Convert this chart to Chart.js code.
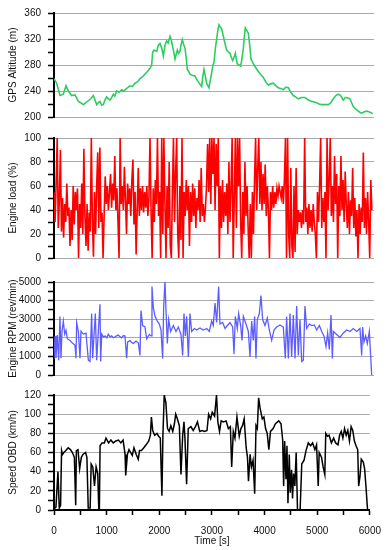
<!DOCTYPE html>
<html>
<head>
<meta charset="utf-8">
<script src="https://cdn.jsdelivr.net/npm/chart.js@4.4.1/dist/chart.umd.min.js"></script>
<style>
  body { margin: 0; background: #fff; }
  #wrap { position: relative; width: 391px; height: 550px; overflow: hidden; }
  #wrap canvas { position: absolute; left: 0; }
</style>
</head>
<body>
<div id="wrap">
  <canvas id="altChart" width="391" height="130" style="top:0px"></canvas>
  <canvas id="loadChart" width="391" height="146" style="top:125px"></canvas>
  <canvas id="rpmChart" width="391" height="119" style="top:269px"></canvas>
  <canvas id="speedChart" width="391" height="168" style="top:382px"></canvas>
</div>
<script>
/* DATA */

const altTime = [0, 50, 112, 175, 225, 269, 331, 394, 456, 500, 550, 600, 644, 690, 737, 770, 800, 830, 862, 895, 925, 955, 987, 1020, 1050, 1080, 1112, 1140, 1175, 1220, 1269, 1310, 1362, 1395, 1425, 1470, 1519, 1565, 1612, 1660, 1706, 1750, 1800, 1831, 1850, 1875, 1925, 1955, 1987, 2020, 2050, 2080, 2112, 2140, 2175, 2200, 2225, 2250, 2269, 2290, 2312, 2335, 2362, 2385, 2406, 2430, 2456, 2480, 2500, 2525, 2550, 2600, 2644, 2675, 2706, 2740, 2769, 2790, 2812, 2840, 2862, 2885, 2906, 2930, 2956, 2980, 3000, 3025, 3050, 3075, 3094, 3120, 3144, 3165, 3187, 3210, 3237, 3270, 3300, 3325, 3350, 3375, 3400, 3420, 3437, 3470, 3500, 3525, 3550, 3570, 3587, 3615, 3644, 3670, 3694, 3720, 3750, 3790, 3831, 3880, 3925, 3970, 4019, 4060, 4112, 4160, 4206, 4250, 4300, 4345, 4394, 4440, 4487, 4530, 4581, 4640, 4706, 4770, 4831, 4880, 4925, 4970, 5019, 5080, 5144, 5190, 5237, 5285, 5331, 5360, 5394, 5410, 5425, 5460, 5487, 5520, 5550, 5580, 5612, 5660, 5706, 5740, 5769, 5820, 5862, 5900, 5937, 5975];
const altValue = [259, 252, 233, 235, 248, 240, 233, 234, 224, 222, 219, 222, 225, 228, 233, 226, 219, 222, 224, 218, 219, 226, 231, 228, 226, 230, 235, 232, 240, 238, 242, 240, 244, 246, 248, 247, 252, 254, 259, 262, 266, 270, 275, 280, 300, 303, 301, 310, 313, 306, 294, 310, 317, 314, 324, 318, 308, 298, 289, 296, 303, 298, 301, 312, 319, 312, 306, 290, 273, 270, 266, 264, 263, 258, 254, 250, 247, 262, 273, 262, 252, 248, 245, 256, 268, 280, 284, 305, 320, 335, 342, 338, 336, 328, 320, 312, 303, 300, 298, 292, 287, 292, 298, 288, 282, 280, 278, 290, 306, 325, 337, 333, 329, 310, 289, 285, 280, 275, 270, 265, 261, 254, 249, 251, 252, 248, 245, 244, 242, 246, 245, 238, 233, 231, 228, 230, 230, 226, 224, 223, 222, 220, 219, 219, 219, 222, 228, 233, 235, 234, 231, 227, 226, 230, 230, 229, 228, 222, 216, 212, 209, 207, 206, 208, 209, 208, 207, 205];

const loadStep = 20;
const loadValue = [
  55, 30, 62, 100, 25, 48, 90, 22, 50, 17,
  45, 30, 62, 35, 42, 10, 40, 15, 60, 28,
  55, 40, 58, 0, 45, 25, 62, 20, 91, 35,
  10, 45, 6, 38, 22, 100, 30, 1, 55, 20,
  60, 88, 25, 92, 30, 38, 0, 35, 68, 45,
  60, 40, 55, 70, 42, 62, 48, 85, 40, 58,
  30, 0, 100, 45, 60, 40, 76, 48, 20, 62,
  45, 58, 35, 65, 82, 28, 55, 3, 40, 75,
  35, 58, 40, 60, 38, 55, 42, 60, 35, 50,
  100, 40, 0, 58, 30, 65, 45, 100, 35, 55,
  0, 100, 20, 100, 45, 0, 60, 25, 80, 10,
  0, 55, 100, 30, 70, 100, 20, 0, 60, 15,
  100, 0, 55, 35, 65, 40, 60, 10, 55, 30,
  62, 35, 58, 25, 50, 40, 65, 30, 75, 35,
  45, 30, 42, 60, 95, 55, 100, 45, 100, 70,
  100, 40, 95, 60, 100, 0, 60, 25, 65, 30,
  55, 35, 62, 20, 80, 30, 58, 100, 0, 50,
  100, 25, 100, 60, 100, 30, 0, 55, 20, 80,
  35, 60, 25, 0, 45, 0, 55, 20, 65, 100,
  40, 75, 100, 45, 80, 40, 70, 45, 78, 35,
  60, 40, 0, 55, 40, 60, 42, 55, 45, 58,
  52, 60, 55, 50, 60, 45, 65, 100, 0, 100,
  20, 0, 75, 10, 0, 60, 5, 75, 20, 40,
  30, 38, 25, 40, 28, 100, 30, 42, 20, 45,
  25, 40, 22, 45, 30, 20, 0, 55, 30, 60,
  100, 25, 50, 30, 55, 0, 100, 40, 65, 100,
  35, 60, 30, 85, 45, 70, 0, 60, 35, 85,
  40, 65, 30, 72, 45, 25, 55, 20, 48, 35,
  75, 25, 50, 18, 40, 0, 45, 20, 42, 30,
  88, 25, 50, 20, 55, 30, 0, 65, 40
];

const rpmTime = [0, 19, 37, 62, 87, 112, 131, 150, 175, 200, 225, 250, 300, 350, 394, 412, 425, 456, 487, 506, 550, 600, 644, 675, 706, 725, 750, 775, 800, 831, 862, 875, 894, 925, 956, 990, 1019, 1050, 1081, 1110, 1144, 1175, 1206, 1240, 1269, 1300, 1331, 1362, 1381, 1425, 1455, 1487, 1537, 1581, 1612, 1631, 1662, 1706, 1737, 1787, 1819, 1837, 1862, 1894, 1937, 1975, 2006, 2037, 2056, 2081, 2100, 2125, 2150, 2187, 2237, 2287, 2331, 2381, 2412, 2437, 2462, 2487, 2519, 2550, 2581, 2631, 2675, 2737, 2800, 2862, 2912, 2956, 2987, 3019, 3050, 3087, 3112, 3162, 3206, 3250, 3300, 3350, 3375, 3400, 3437, 3462, 3500, 3525, 3550, 3600, 3644, 3675, 3706, 3737, 3762, 3787, 3812, 3850, 3881, 3912, 3956, 4000, 4037, 4081, 4125, 4175, 4237, 4300, 4337, 4362, 4394, 4425, 4456, 4487, 4519, 4550, 4581, 4612, 4644, 4675, 4706, 4737, 4787, 4831, 4881, 4925, 4975, 5019, 5062, 5100, 5131, 5162, 5194, 5219, 5237, 5300, 5362, 5425, 5487, 5550, 5612, 5675, 5737, 5769, 5787, 5812, 5844, 5875, 5912, 5937, 5956];
const rpmValue = [890, 2100, 900, 2150, 800, 3150, 900, 2350, 2900, 2200, 2400, 1950, 1850, 1700, 1600, 900, 2800, 2350, 900, 2350, 2200, 2250, 800, 730, 3300, 900, 2100, 3300, 800, 2350, 3800, 730, 2200, 2050, 2100, 2000, 2200, 2050, 2100, 2000, 2050, 2100, 2150, 2050, 2000, 2120, 2100, 900, 1780, 1850, 1750, 1700, 1820, 1730, 1050, 3470, 2660, 2580, 1940, 2180, 2100, 4760, 3630, 3150, 2900, 2740, 2420, 890, 3630, 5080, 3470, 1700, 2980, 2340, 2660, 2340, 2580, 2180, 1050, 3300, 2100, 3150, 970, 3300, 2340, 2500, 2420, 2530, 2420, 2500, 2340, 2900, 2660, 3870, 2820, 4760, 2740, 2820, 2500, 2660, 2820, 2580, 1130, 3150, 2500, 3300, 2660, 1860, 3150, 2740, 2340, 970, 2900, 1860, 3150, 890, 2980, 3300, 4270, 2980, 2660, 3060, 2420, 1860, 2420, 2580, 2690, 2580, 890, 3150, 890, 3300, 970, 3230, 890, 3710, 1050, 2980, 730, 800, 3710, 2500, 2740, 2660, 2690, 2420, 2660, 2340, 2100, 1530, 2260, 1370, 3230, 890, 2340, 2180, 2020, 2260, 2420, 2340, 2500, 2340, 2500, 1050, 2580, 1770, 2100, 1690, 2340, 1050, 0];

const speedTime = [0, 37, 75, 100, 125, 144, 162, 187, 225, 269, 312, 350, 387, 412, 425, 456, 487, 519, 550, 600, 625, 650, 687, 706, 737, 769, 800, 831, 850, 862, 875, 912, 956, 987, 1037, 1081, 1125, 1175, 1225, 1269, 1312, 1350, 1362, 1394, 1425, 1456, 1487, 1519, 1562, 1600, 1625, 1662, 1706, 1750, 1800, 1831, 1850, 1875, 1912, 1956, 1987, 2019, 2050, 2069, 2094, 2125, 2156, 2187, 2219, 2256, 2287, 2312, 2344, 2381, 2412, 2444, 2469, 2487, 2519, 2550, 2600, 2644, 2687, 2725, 2769, 2812, 2862, 2906, 2937, 2975, 3006, 3050, 3087, 3112, 3144, 3175, 3219, 3269, 3312, 3350, 3375, 3406, 3437, 3475, 3519, 3550, 3581, 3612, 3650, 3675, 3694, 3725, 3750, 3781, 3812, 3837, 3862, 3887, 3912, 3956, 3987, 4019, 4050, 4081, 4112, 4162, 4206, 4269, 4312, 4344, 4362, 4381, 4406, 4425, 4444, 4469, 4487, 4512, 4531, 4550, 4575, 4600, 4625, 4675, 4706, 4750, 4787, 4831, 4875, 4912, 4956, 4987, 5019, 5037, 5081, 5112, 5144, 5162, 5194, 5225, 5269, 5312, 5350, 5394, 5425, 5456, 5487, 5519, 5550, 5581, 5612, 5644, 5675, 5706, 5737, 5769, 5787, 5812, 5837, 5875, 5900, 5925, 5956];
const speedValue = [1, 3, 40, 2, 5, 62, 58, 60, 62, 65, 63, 60, 55, 5, 62, 63, 43, 55, 58, 60, 55, 2, 2, 48, 45, 25, 45, 38, 2, 0, 67, 70, 70, 75, 70, 73, 70, 72, 73, 70, 73, 58, 36, 58, 63, 60, 57, 65, 58, 53, 62, 62, 65, 68, 72, 78, 97, 83, 78, 80, 77, 75, 15, 78, 120, 112, 85, 82, 88, 82, 90, 100, 95, 88, 37, 78, 92, 75, 27, 85, 87, 83, 87, 92, 82, 83, 82, 83, 100, 95, 102, 98, 120, 92, 82, 93, 92, 93, 85, 87, 45, 82, 75, 97, 77, 85, 88, 95, 65, 55, 30, 58, 45, 52, 17, 88, 85, 117, 107, 95, 97, 85, 80, 63, 82, 85, 90, 93, 90, 73, 25, 72, 32, 67, 7, 58, 18, 42, 12, 38, 25, 60, 0, 0, 48, 52, 62, 70, 67, 70, 63, 68, 25, 60, 55, 45, 37, 80, 77, 78, 70, 75, 70, 68, 78, 82, 75, 85, 78, 83, 72, 87, 83, 72, 67, 63, 25, 35, 53, 50, 43, 25, 0];

/* SHARED STYLE */

const fontFamily = "'Liberation Sans', Arial, sans-serif";
const PLOT_RIGHT_PAD = 17;

function points(times, values) {
  return values.map((v, i) => ({ x: times[i], y: v }));
}

function yAxis(title, min, max, minor, major) {
  return {
    min: min,
    max: max,
    afterFit: (s) => { s.width = 54; },
    ticks: {
      stepSize: minor,
      autoSkip: false,
      padding: 7,
      color: "#111",
      font: { family: fontFamily, size: 10 },
      callback: (v) => (v % major === 0 ? v : "")
    },
    grid: {
      color: (ctx) =>
        ctx.tick && ctx.tick.value % major === 0 ? "#aaaaaa" : "rgba(0,0,0,0)",
      lineWidth: 1,
      tickColor: "#000",
      tickLength: 6,
      tickWidth: 1.5
    },
    border: { color: "#000", width: 2 },
    title: {
      display: true,
      text: title,
      color: "#111",
      font: { family: fontFamily, size: 10 },
      padding: { top: 7, bottom: 0 }
    }
  };
}

function xAxis(show) {
  if (!show) {
    return { type: "linear", min: 0, max: 6000, display: false };
  }
  return {
    type: "linear",
    min: 0,
    max: 6000,
    afterFit: (s) => { s.height = 40; },
    ticks: {
      stepSize: 500,
      autoSkip: false,
      maxRotation: 0,
      padding: 10,
      color: "#111",
      font: { family: fontFamily, size: 10 },
      callback: (v) => (v % 1000 === 0 ? v : "")
    },
    grid: {
      drawOnChartArea: false,
      tickColor: "#000",
      tickLength: 5,
      tickWidth: 1.5
    },
    border: { color: "#000", width: 2 },
    title: {
      display: true,
      text: "Time [s]",
      color: "#111",
      font: { family: fontFamily, size: 10 },
      padding: { top: 0, bottom: 3 }
    }
  };
}

function makePanel(id, data, color, width, y, bottomAxis) {
  new Chart(document.getElementById(id), {
    type: "line",
    data: {
      datasets: [
        {
          data: data,
          borderColor: color,
          borderWidth: width,
          pointRadius: 0,
          fill: false,
          tension: 0
        }
      ]
    },
    options: {
      responsive: false,
      animation: false,
      layout: {
        padding: { top: 8, right: PLOT_RIGHT_PAD, bottom: bottomAxis ? 0 : 8, left: 0 }
      },
      plugins: { legend: { display: false }, tooltip: { enabled: false } },
      scales: { x: xAxis(bottomAxis), y: y }
    }
  });
}

/* PANELS */

const loadTime = loadValue.map((v, i) => i * loadStep);

makePanel("altChart", points(altTime, altValue), "#2fcc60", 1.6,
  yAxis("GPS Altitude (m)", 200, 360, 20, 40), false);

makePanel("loadChart", points(loadTime, loadValue), "#ff0000", 1.6,
  yAxis("Engine load (%)", 0, 100, 10, 20), false);

makePanel("rpmChart", points(rpmTime, rpmValue), "#5c5cff", 1.3,
  yAxis("Engine RPM (rev/min)", 0, 5000, 500, 1000), false);

makePanel("speedChart", points(speedTime, speedValue), "#000000", 1.5,
  yAxis("Speed OBD (km/h)", 0, 120, 10, 20), true);
</script>
</body>
</html>
